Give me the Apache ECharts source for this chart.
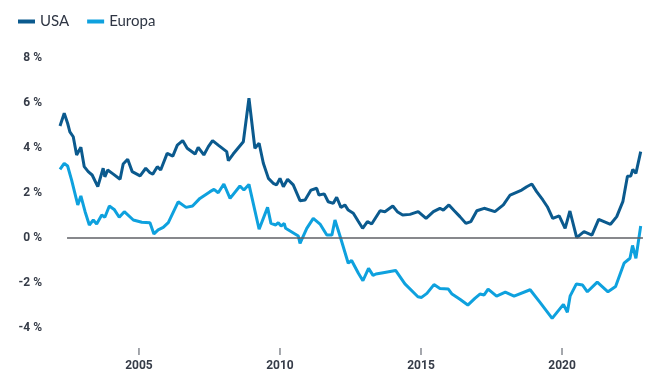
<!DOCTYPE html>
<html>
<head>
<meta charset="utf-8">
<script src="https://cdn.jsdelivr.net/npm/echarts@6/dist/echarts.min.js"></script>
<style>
html,body{margin:0;padding:0;background:#fff;}
#chart{width:650px;height:378px;}
</style>
</head>
<body>
<div id="chart"></div>
<script>
const seriesNames = ['USA', 'Europa'];
const xTickYears = [2005, 2010, 2015, 2020];

const usaYears = [2002.20,2002.35,2002.47,2002.55,2002.67,2002.79,2002.94,2003.06,2003.20,2003.34,2003.54,2003.73,2003.79,2003.89,2004.09,2004.33,2004.44,2004.60,2004.76,2005.04,2005.24,2005.39,2005.49,2005.65,2005.77,2006.00,2006.20,2006.36,2006.55,2006.71,2006.99,2007.10,2007.30,2007.46,2007.61,2007.81,2008.11,2008.17,2008.34,2008.70,2008.76,2008.90,2009.11,2009.26,2009.41,2009.59,2009.76,2009.88,2010.00,2010.12,2010.27,2010.47,2010.71,2010.89,2011.10,2011.30,2011.38,2011.57,2011.71,2011.89,2012.01,2012.16,2012.30,2012.42,2012.60,2012.78,2012.93,2013.10,2013.25,2013.55,2013.72,2014.00,2014.16,2014.35,2014.61,2014.90,2015.18,2015.44,2015.67,2015.79,2015.99,2016.18,2016.38,2016.59,2016.77,2016.98,2017.24,2017.62,2017.92,2018.16,2018.57,2018.75,2018.93,2019.10,2019.32,2019.48,2019.67,2019.90,2020.11,2020.28,2020.52,2020.78,2021.06,2021.30,2021.72,2021.94,2022.16,2022.32,2022.44,2022.51,2022.62,2022.79];
const usaValues = [4.98,5.54,5.10,4.72,4.50,3.69,4.03,3.17,2.95,2.80,2.28,3.10,2.72,3.02,2.84,2.61,3.29,3.50,2.95,2.76,3.10,2.90,2.84,3.17,3.02,3.76,3.64,4.13,4.33,3.99,3.73,4.03,3.69,4.06,4.33,4.13,3.84,3.44,3.73,4.28,4.36,6.21,3.99,4.21,3.32,2.65,2.43,2.36,2.65,2.28,2.61,2.36,1.66,1.69,2.13,2.21,1.91,1.96,1.61,1.54,1.81,1.36,1.47,1.24,1.10,0.73,0.43,0.73,0.62,1.21,1.17,1.42,1.17,1.02,1.05,1.17,0.87,1.17,1.32,1.24,1.47,1.21,0.95,0.65,0.73,1.21,1.32,1.17,1.47,1.91,2.13,2.28,2.40,2.06,1.69,1.39,0.87,0.98,0.43,1.20,0.02,0.28,0.13,0.83,0.61,0.95,1.63,2.74,2.76,3.05,2.87,3.84];

const euYears = [2002.20,2002.35,2002.47,2002.61,2002.83,2002.94,2003.09,2003.24,2003.38,2003.50,2003.68,2003.79,2003.95,2004.12,2004.30,2004.48,2004.80,2005.10,2005.39,2005.53,2005.68,2005.86,2006.04,2006.39,2006.67,2006.90,2007.16,2007.52,2007.66,2007.81,2008.01,2008.23,2008.58,2008.72,2008.90,2009.26,2009.56,2009.68,2009.85,2009.94,2010.04,2010.15,2010.20,2010.65,2010.71,2010.95,2011.18,2011.42,2011.66,2011.84,2011.95,2012.15,2012.42,2012.54,2012.78,2012.94,2013.14,2013.30,2013.40,2013.66,2014.10,2014.43,2014.89,2015.02,2015.21,2015.46,2015.67,2015.97,2016.10,2016.38,2016.66,2016.91,2017.09,2017.24,2017.38,2017.68,2017.99,2018.30,2018.87,2019.22,2019.65,2020.05,2020.19,2020.29,2020.51,2020.73,2020.90,2021.25,2021.63,2021.90,2022.20,2022.41,2022.50,2022.62,2022.79];
const euValues = [3.05,3.32,3.20,2.58,1.47,1.87,1.17,0.58,0.80,0.62,1.02,0.92,1.42,1.27,0.92,1.17,0.80,0.70,0.68,0.18,0.36,0.47,0.68,1.61,1.36,1.42,1.76,2.06,2.16,2.01,2.40,1.76,2.31,2.13,2.38,0.39,1.36,0.65,0.58,0.68,0.53,0.65,0.43,0.09,-0.24,0.43,0.87,0.62,0.13,0.13,0.80,0.00,-1.12,-1.00,-1.57,-1.90,-1.35,-1.66,-1.60,-1.54,-1.44,-2.04,-2.61,-2.64,-2.46,-2.07,-2.24,-2.27,-2.49,-2.72,-2.98,-2.68,-2.49,-2.53,-2.27,-2.58,-2.41,-2.58,-2.30,-2.86,-3.57,-2.95,-3.30,-2.57,-2.04,-2.09,-2.39,-1.96,-2.39,-2.16,-1.12,-0.90,-0.33,-0.90,0.53];

const zeroLineRange = [2002.45, 2022.87];

const usaData = usaYears.map((x, i) => [x, usaValues[i]]);
const euData = euYears.map((x, i) => [x, euValues[i]]);

const chart = echarts.init(document.getElementById('chart'), null, {renderer: 'canvas'});
chart.setOption({
  animation: false,
  color: ['#0b5a8e', '#0ea1de'],
  legend: {
    left: 13, top: 9,
    icon: 'rect', itemWidth: 17, itemHeight: 4, itemGap: 18,
    textStyle: {fontFamily: 'Lato', fontSize: 15, color: '#2f3644'},
    data: seriesNames
  },
  grid: {left: 60, right: 6.2, top: 58, bottom: 50},
  xAxis: {
    type: 'value', min: 2002.2, max: 2022.9,
    axisLine: {show: false},
    splitLine: {show: false},
    axisTick: {show: false},
    axisLabel: {
      customValues: xTickYears, margin: 20,
      formatter: v => '{tick|}\n{year|' + v + '}',
      rich: {
        tick: {width: 1, height: 7, backgroundColor: '#4a4f5a', lineHeight: 7},
        year: {fontFamily: 'Roboto', fontWeight: 'bold', fontSize: 12, color: '#363c48', lineHeight: 22}
      }
    }
  },
  yAxis: {
    type: 'value', min: -4, max: 8, interval: 2,
    axisLine: {show: false}, axisTick: {show: false}, splitLine: {show: false},
    axisLabel: {margin: 18, formatter: '{value} %', fontFamily: 'Roboto', fontWeight: 'bold', fontSize: 12, color: '#363c48'}
  },
  series: [
    {
      name: 'USA', type: 'line', data: usaData, showSymbol: false, symbol: 'none',
      lineStyle: {width: 3, color: '#0b5a8e'}, itemStyle: {color: '#0b5a8e'},
      markLine: {
        silent: true, symbol: 'none', label: {show: false},
        lineStyle: {type: 'solid', color: '#5f6166', width: 1.5},
        data: [[{coord: [zeroLineRange[0], 0]}, {coord: [zeroLineRange[1], 0]}]]
      }
    },
    {
      name: 'Europa', type: 'line', data: euData, showSymbol: false, symbol: 'none',
      lineStyle: {width: 3, color: '#0ea1de'}, itemStyle: {color: '#0ea1de'}
    }
  ]
});
</script>
</body>
</html>
